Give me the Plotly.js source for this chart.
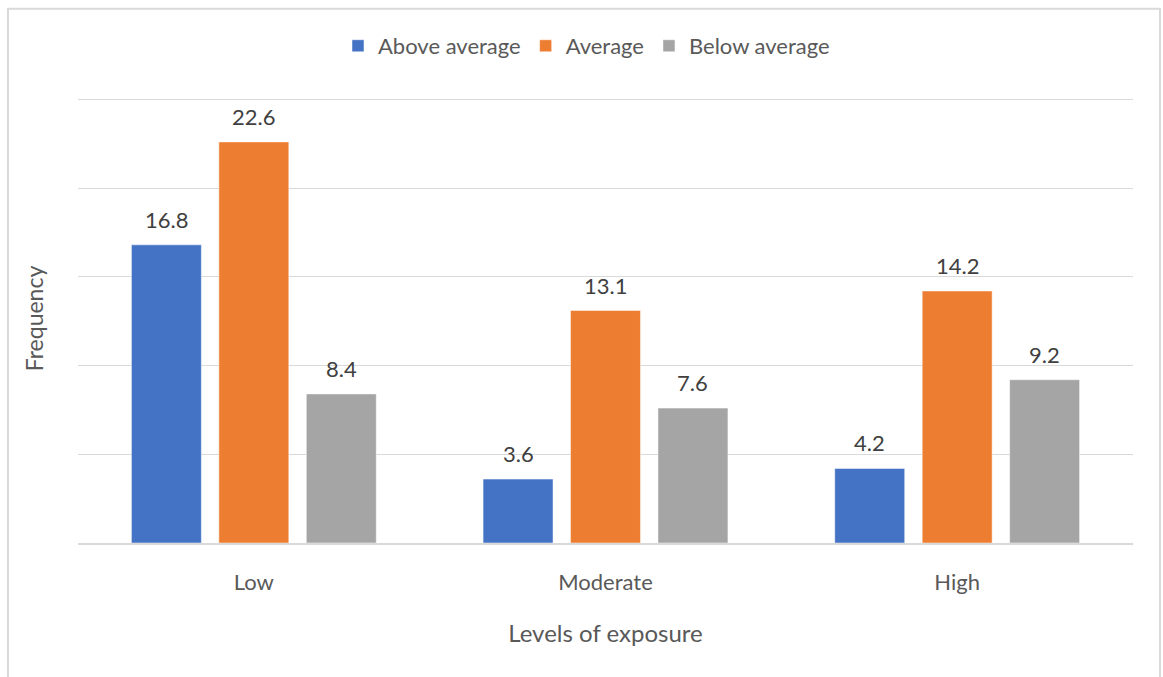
<!DOCTYPE html>
<html>
<head>
<meta charset="utf-8">
<script src="https://cdn.plot.ly/plotly-3.0.1.min.js"></script>
<style>
  html, body { margin: 0; padding: 0; background: #ffffff; }
  #chart { width: 1163px; height: 677px; }
</style>
</head>
<body>
<div id="chart"></div>
<script>
// Frequency of performance level by level of exposure
const categories = ['Low', 'Moderate', 'High'];
const seriesNames = ['Above average', 'Average', 'Below average'];
const aboveAverage = [16.8, 3.6, 4.2];
const average = [22.6, 13.1, 14.2];
const belowAverage = [8.4, 7.6, 9.2];
const seriesColors = ['#4472C4', '#ED7D31', '#A5A5A5'];
const yTicks = [0, 5, 10, 15, 20, 25];

const seriesValues = [aboveAverage, average, belowAverage];

const W = 1163, H = 677;
const margin = { l: 78, r: 30, t: 94, b: 134 };
const bargap = 0.254;
const fontFamily = 'Lato, "Open Sans", sans-serif';
const textGray = '#595959';

const traces = seriesValues.map((vals, i) => ({
  type: 'bar',
  name: seriesNames[i],
  x: categories,
  y: vals,
  marker: { color: seriesColors[i], line: { color: 'rgba(255,255,255,0.6)', width: 0.8 } },
  hoverinfo: 'skip'
}));

// Value labels above each bar, placed on the bar's own slot in its group
const plotW = W - margin.l - margin.r;
const slotPx = (plotW / categories.length) * (1 - bargap) / seriesValues.length;
const annotations = [];
seriesValues.forEach((vals, i) => {
  vals.forEach((v, j) => {
    annotations.push({
      x: categories[j], y: v, xref: 'x', yref: 'y',
      text: v.toFixed(1),
      showarrow: false,
      xanchor: 'center', yanchor: 'bottom',
      xshift: (i - 1) * slotPx,
      yshift: 10,
      font: { family: fontFamily, size: 22, color: '#404040' }
    });
  });
});

const layout = {
  width: W, height: H,
  margin: margin,
  paper_bgcolor: '#ffffff',
  plot_bgcolor: '#ffffff',
  font: { family: fontFamily, color: textGray },
  barmode: 'group',
  bargap: bargap,
  bargroupgap: 0.2,
  showlegend: true,
  legend: {
    orientation: 'h',
    x: 0.482, xanchor: 'center',
    y: 1.107, yanchor: 'middle',
    font: { family: fontFamily, size: 22, color: textGray },
    itemwidth: 30,
    traceorder: 'normal'
  },
  xaxis: {
    type: 'category',
    showgrid: false,
    showline: true,
    linecolor: '#d9d9d9',
    linewidth: 1.5,
    ticks: '',
    ticklabelstandoff: 19,
    tickfont: { family: fontFamily, size: 22, color: textGray },
    title: {
      text: 'Levels of exposure',
      font: { family: fontFamily, size: 24, color: textGray },
      standoff: 31
    },
    fixedrange: true
  },
  yaxis: {
    range: [0, 25.3],
    tickvals: yTicks,
    showticklabels: false,
    showgrid: true,
    gridcolor: '#d9d9d9',
    gridwidth: 1,
    zeroline: false,
    ticks: '',
    title: {
      text: 'Frequency',
      font: { family: fontFamily, size: 23, color: textGray },
      standoff: 26
    },
    fixedrange: true
  },
  annotations: annotations,
  shapes: [{
    type: 'rect', xref: 'paper', yref: 'paper',
    x0: -0.0664, x1: 1.0256, y0: -0.31, y1: 1.19,
    line: { color: '#d9d9d9', width: 2 },
    fillcolor: 'rgba(0,0,0,0)',
    layer: 'below'
  }]
};

Plotly.newPlot('chart', traces, layout, { displayModeBar: false, staticPlot: true });
</script>
</body>
</html>
